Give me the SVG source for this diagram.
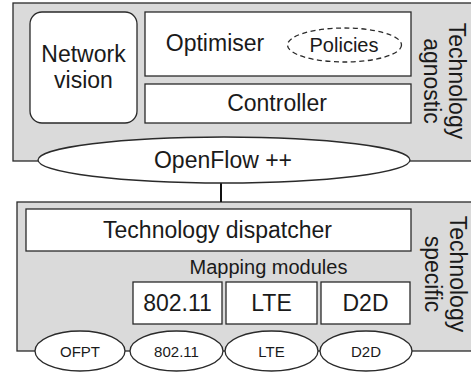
<svg xmlns="http://www.w3.org/2000/svg" width="471" height="376" viewBox="0 0 471 376">
  <style>
    .layer { fill: #dadada; stroke: #2a2a2a; stroke-width: 1.3; }
    .box { fill: #ffffff; stroke: #2a2a2a; stroke-width: 1.3; }
    .dash { fill: #ffffff; stroke: #2a2a2a; stroke-width: 1.3; stroke-dasharray: 5 3.5; }
    .wire { stroke: #111111; stroke-width: 2; fill: none; }
    text { font-family: "Liberation Sans", Arial, Helvetica, sans-serif; fill: #1a1a1a; text-anchor: middle; }
    .big { font-size: 23px; }
    .mid { font-size: 20px; }
    .side { font-size: 23px; }
    .small { font-size: 15px; }
  </style>

  <!-- technology-agnostic layer -->
  <g id="agnostic-layer">
    <rect class="layer" x="13" y="3" width="470" height="158"/>
    <text class="side" transform="translate(449,81) rotate(90)">Technology</text>
    <text class="side" transform="translate(424,81) rotate(90)">agnostic</text>
  </g>

  <g id="network-vision">
    <rect class="box" x="30" y="12" width="107" height="111" rx="12" ry="12"/>
    <text class="big" x="83.5" y="62">Network</text>
    <text class="big" x="83.5" y="88">vision</text>
  </g>

  <g id="optimiser">
    <rect class="box" x="145" y="12" width="266" height="64"/>
    <text class="big" x="215" y="51">Optimiser</text>
  </g>

  <g id="policies">
    <ellipse class="dash" cx="344.5" cy="45" rx="57" ry="17"/>
    <text class="mid" x="344" y="52">Policies</text>
  </g>

  <g id="controller">
    <rect class="box" x="145" y="84" width="266" height="39"/>
    <text class="big" x="277" y="111">Controller</text>
  </g>

  <!-- technology-specific layer -->
  <g id="specific-layer">
    <rect class="layer" x="17" y="202" width="470" height="149"/>
    <text class="side" transform="translate(450,274) rotate(90)">Technology</text>
    <text class="side" transform="translate(425,274) rotate(90)">specific</text>
    <text class="mid" x="268.5" y="274">Mapping modules</text>
  </g>

  <g id="connectors">
    <line class="wire" x1="221" y1="182" x2="221" y2="202"/>
  </g>

  <g id="openflow">
    <ellipse class="box" cx="224" cy="160" rx="186" ry="23"/>
    <text class="big" x="223" y="168">OpenFlow ++</text>
  </g>

  <g id="dispatcher">
    <rect class="box" x="26" y="209" width="385" height="42"/>
    <text class="big" x="217.5" y="238">Technology dispatcher</text>
  </g>

  <g id="module-80211">
    <rect class="box" x="133" y="282" width="89" height="42"/>
    <text class="big" x="177.5" y="311">802.11</text>
  </g>
  <g id="module-lte">
    <rect class="box" x="226" y="282" width="91" height="42"/>
    <text class="big" x="271.5" y="311">LTE</text>
  </g>
  <g id="module-d2d">
    <rect class="box" x="321" y="282" width="89" height="42"/>
    <text class="big" x="365.5" y="311">D2D</text>
  </g>

  <g id="port-ofpt">
    <ellipse class="box" cx="80" cy="351" rx="45" ry="20"/>
    <text class="small" x="80" y="356.5">OFPT</text>
  </g>
  <g id="port-80211">
    <ellipse class="box" cx="176.5" cy="351" rx="46.5" ry="20"/>
    <text class="small" x="176.5" y="356.5">802.11</text>
  </g>
  <g id="port-lte">
    <ellipse class="box" cx="271.5" cy="351" rx="46.5" ry="20"/>
    <text class="small" x="271.5" y="356.5">LTE</text>
  </g>
  <g id="port-d2d">
    <ellipse class="box" cx="366" cy="351" rx="46" ry="20"/>
    <text class="small" x="366" y="356.5">D2D</text>
  </g>
</svg>
